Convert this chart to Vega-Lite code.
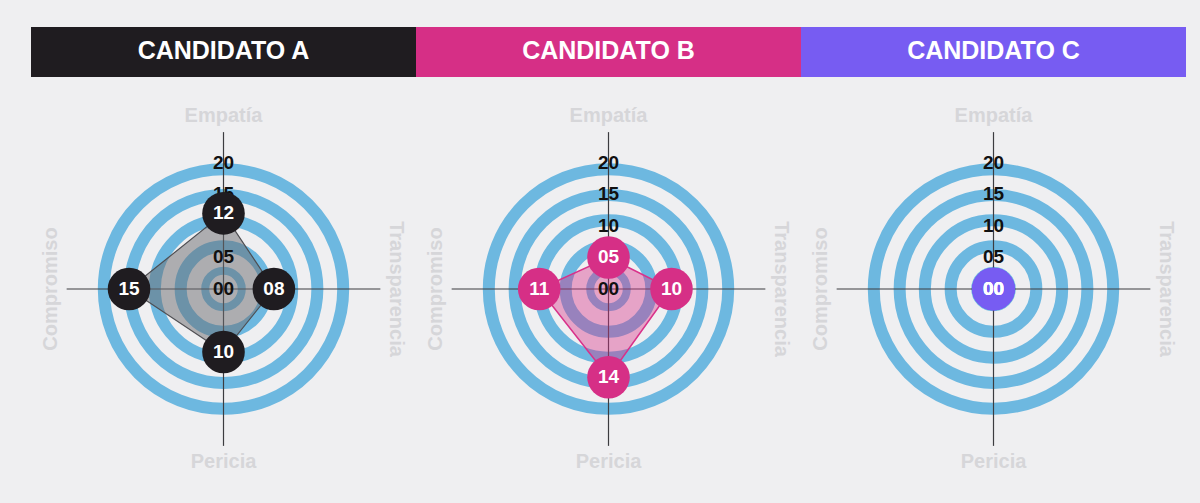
{
  "$schema": "https://vega.github.io/schema/vega-lite/v6.json",
  "background": "#efeff1",
  "padding": {"left": 31, "top": 27, "right": 14, "bottom": 2},
  "config": {
    "view": {"stroke": null},
    "text": {"font": "Liberation Sans", "fontWeight": "bold"}
  },
  "datasets": {
    "cands": [
      {"cand": "A", "name": "CANDIDATO A"},
      {"cand": "B", "name": "CANDIDATO B"},
      {"cand": "C", "name": "CANDIDATO C"}
    ],
    "axes": [
      {"axis": "Empatía", "angle": 0},
      {"axis": "Transparencia", "angle": 90},
      {"axis": "Pericia", "angle": 180},
      {"axis": "Compromiso", "angle": 270}
    ],
    "scores": [
      {"cand": "A", "axis": "Empatía", "value": 12},
      {"cand": "A", "axis": "Transparencia", "value": 8},
      {"cand": "A", "axis": "Pericia", "value": 10},
      {"cand": "A", "axis": "Compromiso", "value": 15},
      {"cand": "B", "axis": "Empatía", "value": 5},
      {"cand": "B", "axis": "Transparencia", "value": 10},
      {"cand": "B", "axis": "Pericia", "value": 14},
      {"cand": "B", "axis": "Compromiso", "value": 11},
      {"cand": "C", "axis": "Empatía", "value": 0},
      {"cand": "C", "axis": "Transparencia", "value": 0},
      {"cand": "C", "axis": "Pericia", "value": 0},
      {"cand": "C", "axis": "Compromiso", "value": 0}
    ],
    "rings": [
      {"r": 19}, {"r": 14.9}, {"r": 10.9}, {"r": 6.8}, {"r": 2.9}
    ],
    "ticks": [
      {"t": 0}, {"t": 5}, {"t": 10}, {"t": 15}, {"t": 20}
    ]
  },
  "spacing": 0,
  "vconcat": [
    {
      "width": 1155,
      "height": 50,
      "data": {"name": "cands"},
      "layer": [
        {
          "mark": {"type": "rect"},
          "encoding": {
            "x": {"field": "cand", "type": "nominal", "axis": null, "scale": {"paddingInner": 0, "paddingOuter": 0}},
            "color": {"field": "cand", "type": "nominal", "legend": null,
              "scale": {"domain": ["A", "B", "C"], "range": ["#1f1c20", "#d62f86", "#775cf2"]}}
          }
        },
        {
          "mark": {"type": "text", "color": "white", "fontSize": 25, "baseline": "middle", "dy": -1},
          "encoding": {
            "x": {"field": "cand", "type": "nominal", "axis": null},
            "text": {"field": "name", "type": "nominal"}
          }
        }
      ]
    },
    {
      "spacing": 0,
      "hconcat": [
        {
          "width": 385,
          "height": 424,
          "layer": [
            {
              "data": {"name": "rings"},
              "transform": [{"filter": "datum.r > 3"}],
              "mark": {"type": "point", "shape": "circle", "filled": false, "stroke": "#6db8e0", "strokeWidth": 12, "opacity": 1},
              "encoding": {
                "x": {"datum": 0, "type": "quantitative", "axis": null, "scale": {"domain": [-30.56, 30.56], "nice": false, "zero": false}},
                "y": {"datum": 0, "type": "quantitative", "axis": null, "scale": {"domain": [-33.65, 33.65], "nice": false, "zero": false}},
                "size": {"field": "r", "type": "quantitative", "legend": null, "scale": {"type": "pow", "exponent": 2, "domain": [0, 20], "range": [0, 63504], "nice": false}}
              }
            },
            {
              "data": {"name": "rings"},
              "transform": [{"filter": "datum.r <= 3"}],
              "mark": {"type": "point", "shape": "circle", "filled": false, "stroke": "#6db8e0", "strokeWidth": 8, "opacity": 1},
              "encoding": {
                "x": {"datum": 0, "type": "quantitative"},
                "y": {"datum": 0, "type": "quantitative"},
                "size": {"field": "r", "type": "quantitative", "legend": null}
              }
            },
            {
              "data": {"name": "axes"},
              "transform": [
                {"calculate": "24.9 * sin(datum.angle * PI / 180)", "as": "ex"},
                {"calculate": "24.9 * cos(datum.angle * PI / 180)", "as": "ey"}
              ],
              "mark": {"type": "rule", "color": "#3c3c40", "strokeWidth": 1.2},
              "encoding": {
                "x": {"field": "ex", "type": "quantitative"},
                "y": {"field": "ey", "type": "quantitative"},
                "x2": {"datum": 0},
                "y2": {"datum": 0}
              }
            },
            {
              "data": {"name": "axes"},
              "transform": [
                {"calculate": "27.4 * sin(datum.angle * PI / 180)", "as": "lx"},
                {"calculate": "27.4 * cos(datum.angle * PI / 180)", "as": "ly"}
              ],
              "mark": {"type": "text", "fontSize": 20, "color": "#d6d6d9", "baseline": "middle", "align": "center"},
              "encoding": {
                "x": {"field": "lx", "type": "quantitative"},
                "y": {"field": "ly", "type": "quantitative"},
                "text": {"field": "axis", "type": "nominal"},
                "angle": {"condition": [
                  {"test": "datum.axis === 'Transparencia'", "value": 90},
                  {"test": "datum.axis === 'Compromiso'", "value": 270}
                ], "value": 0}
              }
            },
            {
              "data": {"name": "scores"},
              "transform": [
                {"filter": "datum.cand === 'A'"},
                {"lookup": "axis", "from": {"data": {"name": "axes"}, "key": "axis", "fields": ["angle"]}},
                {"calculate": "datum.value * sin(datum.angle * PI / 180)", "as": "px"},
                {"calculate": "datum.value * cos(datum.angle * PI / 180)", "as": "py"}
              ],
              "mark": {"type": "line", "interpolate": "linear-closed", "fill": "#6b6b6f", "fillOpacity": 0.5, "stroke": "#4e4e52", "strokeWidth": 1.2},
              "encoding": {
                "x": {"field": "px", "type": "quantitative"},
                "y": {"field": "py", "type": "quantitative"},
                "order": {"value": null}
              }
            },
            {
              "data": {"name": "ticks"},
              "mark": {"type": "text", "fontSize": 19, "color": "#111111", "baseline": "middle"},
              "encoding": {
                "x": {"datum": 0, "type": "quantitative"},
                "y": {"field": "t", "type": "quantitative"},
                "text": {"field": "t", "type": "quantitative", "format": "02d"}
              }
            },
            {
              "data": {"name": "scores"},
              "transform": [
                {"filter": "datum.cand === 'A'"},
                {"lookup": "axis", "from": {"data": {"name": "axes"}, "key": "axis", "fields": ["angle"]}},
                {"calculate": "datum.value * sin(datum.angle * PI / 180)", "as": "px"},
                {"calculate": "datum.value * cos(datum.angle * PI / 180)", "as": "py"}
              ],
              "layer": [
                {
                  "mark": {"type": "circle", "size": 1815, "opacity": 1},
                  "encoding": {
                    "x": {"field": "px", "type": "quantitative"},
                    "y": {"field": "py", "type": "quantitative"},
                    "color": {"field": "cand", "type": "nominal", "legend": null,
                      "scale": {"domain": ["A", "B", "C"], "range": ["#1f1c20", "#d62f86", "#775cf2"]}}
                  }
                },
                {
                  "mark": {"type": "text", "fontSize": 19, "color": "white", "baseline": "middle"},
                  "encoding": {
                    "x": {"field": "px", "type": "quantitative"},
                    "y": {"field": "py", "type": "quantitative"},
                    "text": {"field": "value", "type": "quantitative", "format": "02d"}
                  }
                }
              ]
            }
          ]
        },
        {
          "width": 385,
          "height": 424,
          "layer": [
            {
              "data": {"name": "rings"},
              "transform": [{"filter": "datum.r > 3"}],
              "mark": {"type": "point", "shape": "circle", "filled": false, "stroke": "#6db8e0", "strokeWidth": 12, "opacity": 1},
              "encoding": {
                "x": {"datum": 0, "type": "quantitative", "axis": null, "scale": {"domain": [-30.56, 30.56], "nice": false, "zero": false}},
                "y": {"datum": 0, "type": "quantitative", "axis": null, "scale": {"domain": [-33.65, 33.65], "nice": false, "zero": false}},
                "size": {"field": "r", "type": "quantitative", "legend": null, "scale": {"type": "pow", "exponent": 2, "domain": [0, 20], "range": [0, 63504], "nice": false}}
              }
            },
            {
              "data": {"name": "rings"},
              "transform": [{"filter": "datum.r <= 3"}],
              "mark": {"type": "point", "shape": "circle", "filled": false, "stroke": "#6db8e0", "strokeWidth": 8, "opacity": 1},
              "encoding": {
                "x": {"datum": 0, "type": "quantitative"},
                "y": {"datum": 0, "type": "quantitative"},
                "size": {"field": "r", "type": "quantitative", "legend": null}
              }
            },
            {
              "data": {"name": "axes"},
              "transform": [
                {"calculate": "24.9 * sin(datum.angle * PI / 180)", "as": "ex"},
                {"calculate": "24.9 * cos(datum.angle * PI / 180)", "as": "ey"}
              ],
              "mark": {"type": "rule", "color": "#3c3c40", "strokeWidth": 1.2},
              "encoding": {
                "x": {"field": "ex", "type": "quantitative"},
                "y": {"field": "ey", "type": "quantitative"},
                "x2": {"datum": 0},
                "y2": {"datum": 0}
              }
            },
            {
              "data": {"name": "axes"},
              "transform": [
                {"calculate": "27.4 * sin(datum.angle * PI / 180)", "as": "lx"},
                {"calculate": "27.4 * cos(datum.angle * PI / 180)", "as": "ly"}
              ],
              "mark": {"type": "text", "fontSize": 20, "color": "#d6d6d9", "baseline": "middle", "align": "center"},
              "encoding": {
                "x": {"field": "lx", "type": "quantitative"},
                "y": {"field": "ly", "type": "quantitative"},
                "text": {"field": "axis", "type": "nominal"},
                "angle": {"condition": [
                  {"test": "datum.axis === 'Transparencia'", "value": 90},
                  {"test": "datum.axis === 'Compromiso'", "value": 270}
                ], "value": 0}
              }
            },
            {
              "data": {"name": "scores"},
              "transform": [
                {"filter": "datum.cand === 'B'"},
                {"lookup": "axis", "from": {"data": {"name": "axes"}, "key": "axis", "fields": ["angle"]}},
                {"calculate": "datum.value * sin(datum.angle * PI / 180)", "as": "px"},
                {"calculate": "datum.value * cos(datum.angle * PI / 180)", "as": "py"}
              ],
              "mark": {"type": "line", "interpolate": "linear-closed", "fill": "#d9318a", "fillOpacity": 0.4, "stroke": "#d9318a", "strokeWidth": 1.5},
              "encoding": {
                "x": {"field": "px", "type": "quantitative"},
                "y": {"field": "py", "type": "quantitative"},
                "order": {"value": null}
              }
            },
            {
              "data": {"name": "ticks"},
              "mark": {"type": "text", "fontSize": 19, "color": "#111111", "baseline": "middle"},
              "encoding": {
                "x": {"datum": 0, "type": "quantitative"},
                "y": {"field": "t", "type": "quantitative"},
                "text": {"field": "t", "type": "quantitative", "format": "02d"}
              }
            },
            {
              "data": {"name": "scores"},
              "transform": [
                {"filter": "datum.cand === 'B'"},
                {"lookup": "axis", "from": {"data": {"name": "axes"}, "key": "axis", "fields": ["angle"]}},
                {"calculate": "datum.value * sin(datum.angle * PI / 180)", "as": "px"},
                {"calculate": "datum.value * cos(datum.angle * PI / 180)", "as": "py"}
              ],
              "layer": [
                {
                  "mark": {"type": "circle", "size": 1815, "opacity": 1},
                  "encoding": {
                    "x": {"field": "px", "type": "quantitative"},
                    "y": {"field": "py", "type": "quantitative"},
                    "color": {"field": "cand", "type": "nominal", "legend": null,
                      "scale": {"domain": ["A", "B", "C"], "range": ["#1f1c20", "#d62f86", "#775cf2"]}}
                  }
                },
                {
                  "mark": {"type": "text", "fontSize": 19, "color": "white", "baseline": "middle"},
                  "encoding": {
                    "x": {"field": "px", "type": "quantitative"},
                    "y": {"field": "py", "type": "quantitative"},
                    "text": {"field": "value", "type": "quantitative", "format": "02d"}
                  }
                }
              ]
            }
          ]
        },
        {
          "width": 385,
          "height": 424,
          "layer": [
            {
              "data": {"name": "rings"},
              "transform": [{"filter": "datum.r > 3"}],
              "mark": {"type": "point", "shape": "circle", "filled": false, "stroke": "#6db8e0", "strokeWidth": 12, "opacity": 1},
              "encoding": {
                "x": {"datum": 0, "type": "quantitative", "axis": null, "scale": {"domain": [-30.56, 30.56], "nice": false, "zero": false}},
                "y": {"datum": 0, "type": "quantitative", "axis": null, "scale": {"domain": [-33.65, 33.65], "nice": false, "zero": false}},
                "size": {"field": "r", "type": "quantitative", "legend": null, "scale": {"type": "pow", "exponent": 2, "domain": [0, 20], "range": [0, 63504], "nice": false}}
              }
            },
            {
              "data": {"name": "rings"},
              "transform": [{"filter": "datum.r <= 3"}],
              "mark": {"type": "point", "shape": "circle", "filled": false, "stroke": "#6db8e0", "strokeWidth": 8, "opacity": 1},
              "encoding": {
                "x": {"datum": 0, "type": "quantitative"},
                "y": {"datum": 0, "type": "quantitative"},
                "size": {"field": "r", "type": "quantitative", "legend": null}
              }
            },
            {
              "data": {"name": "axes"},
              "transform": [
                {"calculate": "24.9 * sin(datum.angle * PI / 180)", "as": "ex"},
                {"calculate": "24.9 * cos(datum.angle * PI / 180)", "as": "ey"}
              ],
              "mark": {"type": "rule", "color": "#3c3c40", "strokeWidth": 1.2},
              "encoding": {
                "x": {"field": "ex", "type": "quantitative"},
                "y": {"field": "ey", "type": "quantitative"},
                "x2": {"datum": 0},
                "y2": {"datum": 0}
              }
            },
            {
              "data": {"name": "axes"},
              "transform": [
                {"calculate": "27.4 * sin(datum.angle * PI / 180)", "as": "lx"},
                {"calculate": "27.4 * cos(datum.angle * PI / 180)", "as": "ly"}
              ],
              "mark": {"type": "text", "fontSize": 20, "color": "#d6d6d9", "baseline": "middle", "align": "center"},
              "encoding": {
                "x": {"field": "lx", "type": "quantitative"},
                "y": {"field": "ly", "type": "quantitative"},
                "text": {"field": "axis", "type": "nominal"},
                "angle": {"condition": [
                  {"test": "datum.axis === 'Transparencia'", "value": 90},
                  {"test": "datum.axis === 'Compromiso'", "value": 270}
                ], "value": 0}
              }
            },
            {
              "data": {"name": "scores"},
              "transform": [
                {"filter": "datum.cand === 'C'"},
                {"lookup": "axis", "from": {"data": {"name": "axes"}, "key": "axis", "fields": ["angle"]}},
                {"calculate": "datum.value * sin(datum.angle * PI / 180)", "as": "px"},
                {"calculate": "datum.value * cos(datum.angle * PI / 180)", "as": "py"}
              ],
              "mark": {"type": "line", "interpolate": "linear-closed", "fill": "#775cf2", "fillOpacity": 0.4, "stroke": "#775cf2", "strokeWidth": 1.5},
              "encoding": {
                "x": {"field": "px", "type": "quantitative"},
                "y": {"field": "py", "type": "quantitative"},
                "order": {"value": null}
              }
            },
            {
              "data": {"name": "ticks"},
              "mark": {"type": "text", "fontSize": 19, "color": "#111111", "baseline": "middle"},
              "encoding": {
                "x": {"datum": 0, "type": "quantitative"},
                "y": {"field": "t", "type": "quantitative"},
                "text": {"field": "t", "type": "quantitative", "format": "02d"}
              }
            },
            {
              "data": {"name": "scores"},
              "transform": [
                {"filter": "datum.cand === 'C'"},
                {"lookup": "axis", "from": {"data": {"name": "axes"}, "key": "axis", "fields": ["angle"]}},
                {"calculate": "datum.value * sin(datum.angle * PI / 180)", "as": "px"},
                {"calculate": "datum.value * cos(datum.angle * PI / 180)", "as": "py"}
              ],
              "layer": [
                {
                  "mark": {"type": "circle", "size": 1815, "opacity": 1},
                  "encoding": {
                    "x": {"field": "px", "type": "quantitative"},
                    "y": {"field": "py", "type": "quantitative"},
                    "color": {"field": "cand", "type": "nominal", "legend": null,
                      "scale": {"domain": ["A", "B", "C"], "range": ["#1f1c20", "#d62f86", "#775cf2"]}}
                  }
                },
                {
                  "mark": {"type": "text", "fontSize": 19, "color": "white", "baseline": "middle"},
                  "encoding": {
                    "x": {"field": "px", "type": "quantitative"},
                    "y": {"field": "py", "type": "quantitative"},
                    "text": {"field": "value", "type": "quantitative", "format": "02d"}
                  }
                }
              ]
            }
          ]
        }
      ]
    }
  ]
}
